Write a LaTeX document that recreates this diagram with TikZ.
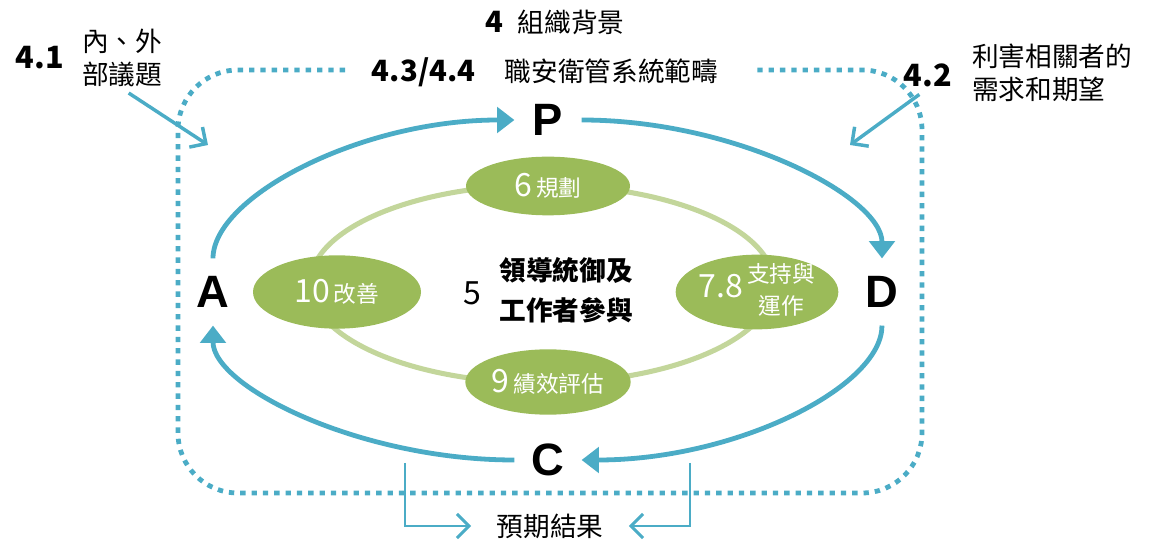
\documentclass[tikz,border=0pt]{standalone}
\usepackage{fontspec}
\setmainfont{Noto Sans CJK TC}
\newfontfamily\latinfont{Liberation Sans}
\usetikzlibrary{arrows.meta,shapes.geometric}
\definecolor{pdcablue}{RGB}{75,172,198}
\definecolor{stagegreen}{RGB}{155,187,89}
\definecolor{ringgreen}{RGB}{195,214,155}
\newcommand{\bignum}[1]{{\fontsize{24}{24}\selectfont #1}}
\tikzset{
  stage/.style={ellipse,fill=stagegreen,text=white,inner sep=0pt,font=\fontsize{17}{24}\selectfont},
  letter/.style={circle,minimum size=50pt,inner sep=0pt,font=\latinfont\bfseries\fontsize{34}{34}\selectfont},
  cycarrow/.style={pdcablue,line width=3.6pt,-{Triangle[length=13pt,width=19pt]}},
  inarrow/.style={pdcablue,line width=2.6pt,-{Straight Barb[length=9pt,width=18pt]}},
  scopeline/.style={pdcablue,line width=3.6pt,dash pattern=on 4pt off 4.5pt,rounded corners=45pt},
  label/.style={font=\fontsize{20}{25}\selectfont,inner sep=1pt}
}
\begin{document}
\begin{tikzpicture}[x=0.75pt,y=-0.75pt]
\useasboundingbox(0,0)rectangle(1158,541);
% scope boundary
\draw[scopeline](345,70)--(178,70)--(178,493)--(922,493)--(922,70)--(755,70);
% inner ring
\draw[ringgreen,line width=3.8pt](542,284)ellipse[x radius=232,y radius=99];
% stages
\node[stage,minimum width=123pt,minimum height=44pt](plan)at(548,186){\bignum{6}\,規劃};
\node[stage,minimum width=126pt,minimum height=55pt](act)at(337,292){\bignum{10}\,改善};
\node[stage,minimum width=122pt,minimum height=56pt,inner xsep=-12pt,inner ysep=-14pt](do)at(757,292){\bignum{7.8}\,\begin{tabular}{@{}c@{}}支持與\\運作\end{tabular}};
\node[stage,minimum width=124pt,minimum height=49pt](check)at(548,382){\bignum{9}\,績效評估};
% leadership
\node[inner sep=0pt](five)at(472,293){\bignum{5}};
\node[label,align=left,font=\fontsize{20}{30}\selectfont\bfseries](lead)at(566,290){領導統御及\\工作者參與};
% PDCA letters
\node[letter](P)at(548,120){P};
\node[letter](D)at(882,292){D};
\node[letter](C)at(548,460){C};
\node[letter](A)at(213,292){A};
\draw[cycarrow](A)..controls +(0,-95) and +(-188,0)..(P);
\draw[cycarrow](P)..controls +(188,0) and +(0,-95)..(D);
\draw[cycarrow](D)..controls +(0,95) and +(188,0)..(C);
\draw[cycarrow](C)..controls +(-188,0) and +(0,95)..(A);
% headings
\node[label](ctx)at(555,22){\fontsize{22}{22}\selectfont\textbf{4}\enspace\fontsize{20}{25}\selectfont 組織背景};
\node[label,fill=white](scope)at(545,72){\fontsize{22}{22}\selectfont\textbf{4.3/4.4}\quad\fontsize{20}{25}\selectfont 職安衛管系統範疇};
\node[label](n41)at(40,58){\fontsize{23}{23}\selectfont\textbf{4.1}};
\node[label,align=left](issues)at(122,58){內、外\\部議題};
\node[label](n42)at(928,75){\fontsize{23}{23}\selectfont\textbf{4.2}};
\node[label,align=left](needs)at(1052,73){利害相關者的\\需求和期望};
\coordinate(inA)at(208,145);
\coordinate(inD)at(850,145);
\draw[inarrow,shorten <=6pt](issues.south)--(inA);
\draw[inarrow,shorten <=8pt](n42.south)--(inD);
% outcomes
\node[label](result)at(550,526){預期結果};
\coordinate(outl)at(405,463);
\coordinate(outr)at(690,463);
\draw[inarrow,line width=2.2pt,shorten >=18pt](outl)|-(result.west);
\draw[inarrow,line width=2.2pt,shorten >=18pt](outr)|-(result.east);
\end{tikzpicture}
\end{document}
